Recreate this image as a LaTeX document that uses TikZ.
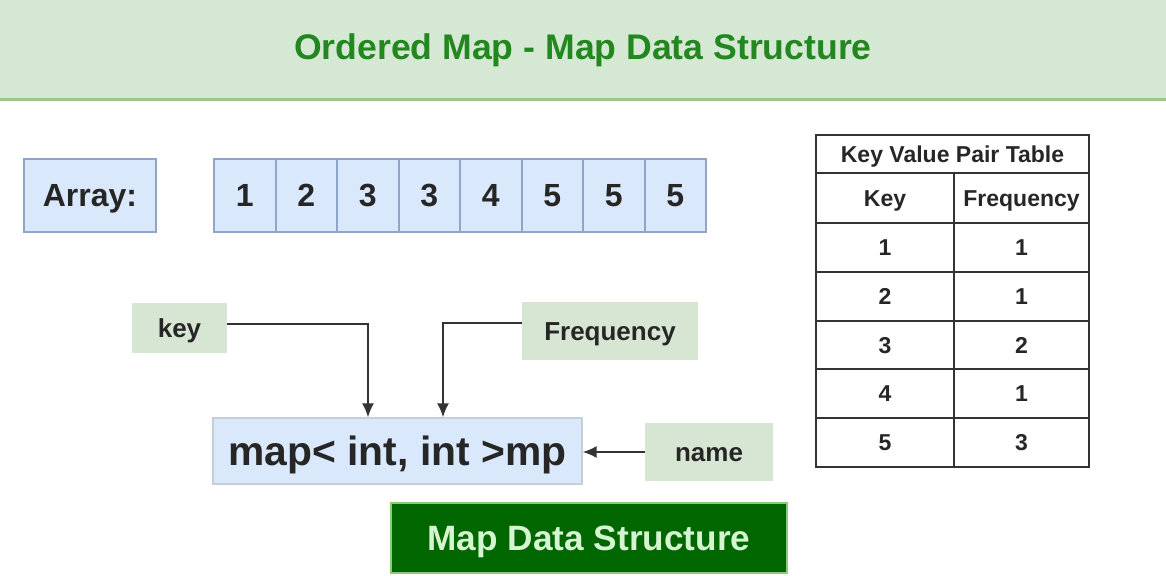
\documentclass[tikz,border=0pt]{standalone}
\usepackage{fontspec}
\setmainfont{Liberation Sans}
\usetikzlibrary{calc,arrows.meta}
\definecolor{bandgreen}{HTML}{D5E8D4}
\definecolor{bandline}{HTML}{9DC58F}
\definecolor{titlegreen}{HTML}{23871F}
\definecolor{blufill}{HTML}{DAE8FC}
\definecolor{bluline}{HTML}{8FA6C8}
\definecolor{mpline}{HTML}{C5CFDC}
\definecolor{tagfill}{HTML}{D6E6D3}
\definecolor{mdsfill}{HTML}{006600}
\definecolor{mdsline}{HTML}{8CCB7A}
\definecolor{mdstext}{HTML}{D5F5D0}
\definecolor{darkline}{HTML}{333333}

\begin{document}
\begin{tikzpicture}[x=0.5pt,y=-0.5pt,
    box/.style={fill=blufill,draw=bluline,line width=1pt,inner sep=0pt,
      text=black!85,font=\bfseries\fontsize{16}{18}\selectfont,text height=11.5pt,text depth=0pt},
    tag/.style={fill=tagfill,inner sep=0pt,text=black!85,
      font=\bfseries\fontsize{13}{15}\selectfont,text height=9.3pt,text depth=0pt},
    cell/.style={draw=darkline,line width=1pt,inner sep=0pt,text=black!85,
      font=\bfseries\fontsize{11.5}{13}\selectfont,text height=8.2pt,text depth=0pt},
    arr/.style={-{Latex[length=7pt,width=6pt]},draw=darkline,line width=1pt}]
          \useasboundingbox (0,0) rectangle (1166,576);
          % title band
          \node[fill=bandgreen,minimum width=583pt,minimum height=49.5pt,inner sep=0pt,
            text=titlegreen,font=\bfseries\fontsize{17.8}{20}\selectfont,
            text height=12.7pt,text depth=3pt] (band) at (583,49.5)
            {Ordered Map - Map Data Structure};
          \draw[bandline,line width=1.5pt] (band.south west) -- (band.south east);
          % array
          \node[box,minimum width=66pt,minimum height=36.5pt] (array) at (90,195.5) {Array:};
          \foreach \v [count=\i from 0] in {1,2,3,3,4,5,5,5}
            \node[box,minimum width=30.75pt,minimum height=36.5pt] (c\i) at (244.75+61.5*\i,195.5) {\v};
          % declaration
          \node[fill=blufill,draw=mpline,line width=0.6pt,inner sep=0pt,minimum width=184.5pt,
            minimum height=33pt,text=black!85,font=\bfseries\fontsize{20.4}{22}\selectfont,
            text height=14.6pt,text depth=0pt] (mp) at (397.5,451) {map< int, int >mp};
          \node[tag,minimum width=47.5pt,minimum height=25pt] (key) at (179.5,328) {key};
          \node[tag,minimum width=88pt,minimum height=29pt] (freq) at (610,331) {Frequency};
          \node[tag,minimum width=64pt,minimum height=29pt] (name) at (709,452) {name};
          \node[fill=mdsfill,draw=mdsline,line width=0.8pt,inner sep=0pt,minimum width=198pt,
            minimum height=35pt,text=mdstext,font=\bfseries\fontsize{17.6}{20}\selectfont,
            text height=12.6pt,text depth=0pt] (mds) at (589,538) {Map Data Structure};
          \draw[arr] ([yshift=2pt]key.east) -| ($(mp.north)+(-29.5,0)$);
          \draw[arr] ([yshift=4pt]freq.west) -| ($(mp.north)+(45.5,0)$);
          \draw[arr] (name.west) -- (mp.east |- name.west);
          % key value table
          \node[cell,minimum width=136.5pt,minimum height=19pt] (ttl) at (952.5,154) {Key Value Pair Table};
          \node[cell,minimum width=69pt,minimum height=25pt] (hk) at (885,198) {Key};
          \node[cell,minimum width=67.5pt,minimum height=25pt] (hf) at (1021.5,198) {Frequency};
          \foreach \k/\f [count=\i from 0] in {1/1,2/1,3/2,4/1,5/3}{
            \node[cell,minimum width=69pt,minimum height=24.4pt] (k\i) at (885,247.4+48.8*\i) {\k};
            \node[cell,minimum width=67.5pt,minimum height=24.4pt] (f\i) at (1021.5,247.4+48.8*\i) {\f};
          }
        \end{tikzpicture}
\end{document}
